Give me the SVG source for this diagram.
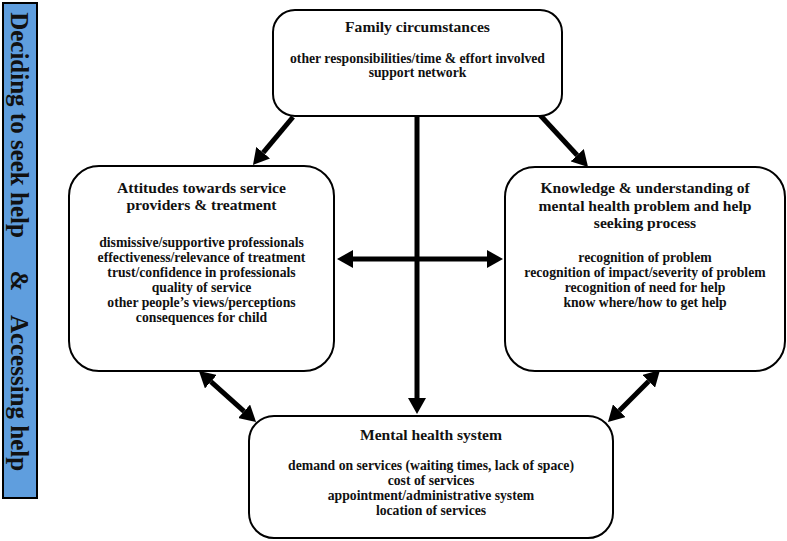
<svg xmlns="http://www.w3.org/2000/svg" width="787" height="541" viewBox="0 0 787 541">
<style>
.box{fill:#fff;stroke:#000;stroke-width:2}
.t{font-family:"Liberation Serif","Times New Roman",serif;font-weight:bold;fill:#111;text-anchor:middle}
.h{font-size:15.6px}
.i{font-size:13.7px}
.c{stroke:#000;stroke-width:5;fill:none}
.side{font-family:"Liberation Serif","Times New Roman",serif;font-weight:bold;font-size:25px;fill:#111;text-anchor:middle}
</style>
<defs>
<marker id="ah" viewBox="0 0 16 18" refX="0" refY="9" markerWidth="16" markerHeight="18" markerUnits="userSpaceOnUse" orient="auto-start-reverse">
<path d="M0,0 L16,9 L0,18 Z" fill="#000"/>
</marker>
</defs>
<g id="side-bar">
<rect x="3" y="3" width="34" height="495" fill="#5f9ede" stroke="#000" stroke-width="2"/>
<text class="side" transform="translate(11,125) rotate(90)">Deciding to seek help</text>
<text class="side" transform="translate(11,281) rotate(90)">&amp;</text>
<text class="side" transform="translate(11,393) rotate(90)">Accessing help</text>
</g>
<g id="connectors">
<line class="c" x1="293" y1="117" x2="263.2" y2="152.7" marker-end="url(#ah)"/>
<line class="c" x1="540" y1="115" x2="577.2" y2="155.2" marker-end="url(#ah)"/>
<line class="c" x1="417" y1="116" x2="417" y2="398" marker-end="url(#ah)"/>
<line class="c" x1="353" y1="259" x2="487" y2="259" marker-start="url(#ah)" marker-end="url(#ah)"/>
<line class="c" x1="210.9" y1="381.7" x2="244.1" y2="411.3" marker-start="url(#ah)" marker-end="url(#ah)"/>
<line class="c" x1="648.7" y1="381.3" x2="619.3" y2="410.7" marker-start="url(#ah)" marker-end="url(#ah)"/>
</g>
<g id="family">
<rect class="box" x="273" y="10" width="289" height="106" rx="22"/>
<text class="t h" x="417.5" y="32">Family circumstances</text>
<text class="t i" x="417.5" y="63">other responsibilities/time &amp; effort involved</text>
<text class="t i" x="417.5" y="77">support network</text>
</g>
<g id="attitudes">
<rect class="box" x="69" y="166" width="265" height="205" rx="30"/>
<text class="t h" x="201.5" y="193">Attitudes towards service</text>
<text class="t h" x="201.5" y="210">providers &amp; treatment</text>
<text class="t i" x="201.5" y="247">dismissive/supportive professionals</text>
<text class="t i" x="201.5" y="262">effectiveness/relevance of treatment</text>
<text class="t i" x="201.5" y="277">trust/confidence in professionals</text>
<text class="t i" x="201.5" y="292">quality of service</text>
<text class="t i" x="201.5" y="307">other people’s views/perceptions</text>
<text class="t i" x="201.5" y="322">consequences for child</text>
</g>
<g id="knowledge">
<rect class="box" x="505" y="167" width="280" height="204" rx="30"/>
<text class="t h" x="645" y="193">Knowledge &amp; understanding of</text>
<text class="t h" x="645" y="211">mental health problem and help</text>
<text class="t h" x="645" y="228">seeking process</text>
<text class="t i" x="645" y="262">recognition of problem</text>
<text class="t i" x="645" y="277">recognition of impact/severity of problem</text>
<text class="t i" x="645" y="292">recognition of need for help</text>
<text class="t i" x="645" y="307">know where/how to get help</text>
</g>
<g id="mental-health-system">
<rect class="box" x="249" y="416" width="364" height="122" rx="25"/>
<text class="t h" x="431" y="440">Mental health system</text>
<text class="t i" x="431" y="470">demand on services (waiting times, lack of space)</text>
<text class="t i" x="431" y="485">cost of services</text>
<text class="t i" x="431" y="500">appointment/administrative system</text>
<text class="t i" x="431" y="515">location of services</text>
</g>
</svg>
